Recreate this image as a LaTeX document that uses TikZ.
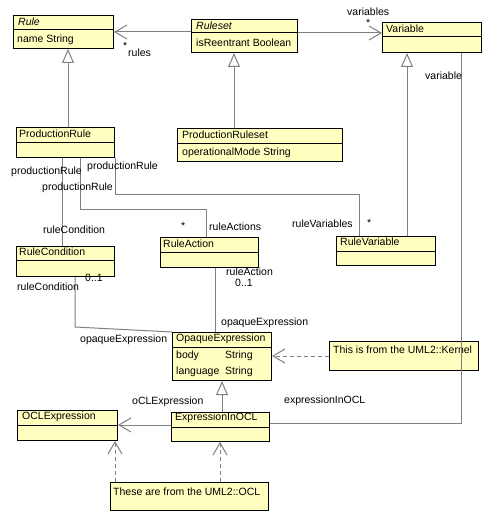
\documentclass[tikz,border=0pt]{standalone}
\usepackage{fontspec}
\setmainfont{Liberation Sans}
\usetikzlibrary{arrows.meta}
\definecolor{umlfill}{RGB}{255,255,192}
\definecolor{umlline}{RGB}{128,128,128}
\begin{document}
\begin{tikzpicture}[x=1pt,y=-1pt,
  box/.style={draw=black,fill=umlfill,line width=1pt,anchor=north west,inner sep=0pt},
  txt/.style={anchor=west,inner sep=0pt,font=\fontsize{10.5}{12}\selectfont},
  divider/.style={draw=black,line width=1pt},
  conn/.style={draw=umlline,line width=1pt},
  nav/.style={conn,-{Straight Barb[length=12pt,width=14pt]}},
  gen/.style={conn,-{Triangle[open,length=14pt,width=12pt,fill=white]}},
  dep/.style={conn,dashed,dash pattern=on 4pt off 3pt,-{Straight Barb[length=12pt,width=14pt]}}]
\useasboundingbox (0,0) rectangle (490,519);
\fill[white] (0,0) rectangle (490,519);

% ---------- classes ----------
\node[box,minimum width=100pt,minimum height=33pt] (rule) at (13,15) {};
\draw[divider] (rule.west |- 0,30) -- (rule.east |- 0,30);
\node[txt] (ruleT) at (18,22) {\itshape Rule};
\node[txt] (ruleA) at (17,40) {name String};

\node[box,minimum width=106pt,minimum height=33pt] (ruleset) at (191,19) {};
\draw[divider] (ruleset.west |- 0,33) -- (ruleset.east |- 0,33);
\node[txt] (rulesetT) at (196,26) {\itshape Ruleset};
\node[txt] (rulesetA) at (196,43) {isReentrant Boolean};

\node[box,minimum width=99pt,minimum height=30pt] (variable) at (382,22) {};
\draw[divider] (variable.west |- 0,37) -- (variable.east |- 0,37);
\node[txt] (variableT) at (386,29) {Variable};

\node[box,minimum width=98pt,minimum height=30pt] (prule) at (16,127) {};
\draw[divider] (prule.west |- 0,142) -- (prule.east |- 0,142);
\node[txt] (pruleT) at (19,134) {ProductionRule};

\node[box,minimum width=165pt,minimum height=33pt] (prset) at (177,128) {};
\draw[divider] (prset.west |- 0,143) -- (prset.east |- 0,143);
\node[txt] (prsetT) at (182,135) {ProductionRuleset};
\node[txt] (prsetA) at (182,153) {operationalMode String};

\node[box,minimum width=98pt,minimum height=30pt] (rcond) at (16,246) {};
\draw[divider] (rcond.west |- 0,260) -- (rcond.east |- 0,260);
\node[txt] (rcondT) at (19,252) {RuleCondition};

\node[box,minimum width=98pt,minimum height=30pt] (raction) at (160,237) {};
\draw[divider] (raction.west |- 0,252) -- (raction.east |- 0,252);
\node[txt] (ractionT) at (163,244) {RuleAction};

\node[box,minimum width=99pt,minimum height=29pt] (rvar) at (336,236) {};
\draw[divider] (rvar.west |- 0,251) -- (rvar.east |- 0,251);
\node[txt] (rvarT) at (340,242) {RuleVariable};

\node[box,minimum width=99pt,minimum height=48pt] (opaque) at (172,332) {};
\draw[divider] (opaque.west |- 0,347) -- (opaque.east |- 0,347);
\node[txt] (opaqueT) at (176,339) {OpaqueExpression};
\node[txt] (opaqueA1) at (176,356) {body};
\node[txt] (opaqueA1t) at (225,356) {String};
\node[txt] (opaqueA2) at (176,372) {language};
\node[txt] (opaqueA2t) at (225,372) {String};

\node[box,minimum width=100pt,minimum height=30pt] (oclexp) at (17,410) {};
\draw[divider] (oclexp.west |- 0,425) -- (oclexp.east |- 0,425);
\node[txt] (oclexpT) at (22,417) {OCLExpression};

\node[box,minimum width=98pt,minimum height=29pt] (eio) at (171,412) {};
\draw[divider] (eio.west |- 0,427) -- (eio.east |- 0,427);
\node[txt] (eioT) at (175,418) {ExpressionInOCL};

% ---------- notes ----------
\node[box,minimum width=149pt,minimum height=29pt] (knote) at (329,341) {};
\node[txt] (knoteT) at (333,350) {This is from the UML2::Kernel};

\node[box,minimum width=158pt,minimum height=28pt] (onote) at (110,482) {};
\node[txt] (onoteT) at (113,492) {These are from the UML2::OCL};

% ---------- connectors ----------
\draw[nav] (ruleset.west |- 0,32) -- (rule.east |- 0,32);
\draw[nav] (ruleset.east |- 0,33) -- (variable.west |- 0,33);
\draw[gen] (prule.north -| 68,0) -- (rule.south -| 68,0);
\draw[gen] (prset.north -| 234,0) -- (ruleset.south -| 234,0);
\draw[gen] (rvar.north -| 407,0) -- (variable.south -| 407,0);
\coordinate (vc) at (461,423);
\draw[conn] (variable.south -| vc) -- (vc) -- (eio.east |- vc);

\draw[conn] (prule.south -| 62,0) -- (rcond.north -| 62,0);
\coordinate (pa1) at (80,209);
\coordinate (pa2) at (206,209);
\draw[conn] (prule.south -| pa1) -- (pa1) -- (pa2) -- (raction.north -| pa2);
\coordinate (pv1) at (115,194);
\coordinate (pv2) at (359,194);
\draw[conn] (prule.south -| pv1) -- (pv1) -- (pv2) -- (rvar.north -| pv2);

\coordinate (rc1) at (75,327);
\draw[conn] (rcond.south -| rc1) -- (rc1) -- (opaque.north west);
\draw[conn] (raction.south -| 215,0) -- (opaque.north -| 215,0);
\draw[dep] (knote.west |- 0,356) -- (opaque.east |- 0,356);
\draw[gen] (eio.north -| 222,0) -- (opaque.south -| 222,0);
\draw[nav] (eio.west |- 0,425) -- (oclexp.east |- 0,425);
\draw[dep] (onote.north -| 115,0) -- (oclexp.south -| 115,0);
\draw[dep] (onote.north -| 220,0) -- (eio.south -| 220,0);

% ---------- labels ----------
\node[txt] (l1) at (123,46) {*};
\node[txt] (l2) at (128,53) {rules};
\node[txt] (l3) at (347,12) {variables};
\node[txt] (l4) at (366,23) {*};
\node[txt] (l5) at (425,76) {variable};
\node[txt] (l6) at (11,172) {productionRule};
\node[txt] (l7) at (87,167) {productionRule};
\node[txt] (l8) at (42,188) {productionRule};
\node[txt] (l9) at (43,230) {ruleCondition};
\node[txt] (l10) at (181,226) {*};
\node[txt] (l11) at (209,227) {ruleActions};
\node[txt] (l12) at (292,224) {ruleVariables};
\node[txt] (l13) at (367,223) {*};
\node[txt] (l14) at (85,278) {0..1};
\node[txt] (l15) at (17,287) {ruleCondition};
\node[txt] (l16) at (226,272) {ruleAction};
\node[txt] (l17) at (235,283) {0..1};
\node[txt] (l18) at (221,323) {opaqueExpression};
\node[txt] (l19) at (80,340) {opaqueExpression};
\node[txt] (l20) at (132,402) {oCLExpression};
\node[txt] (l21) at (284,401) {expressionInOCL};
\end{tikzpicture}
\end{document}
